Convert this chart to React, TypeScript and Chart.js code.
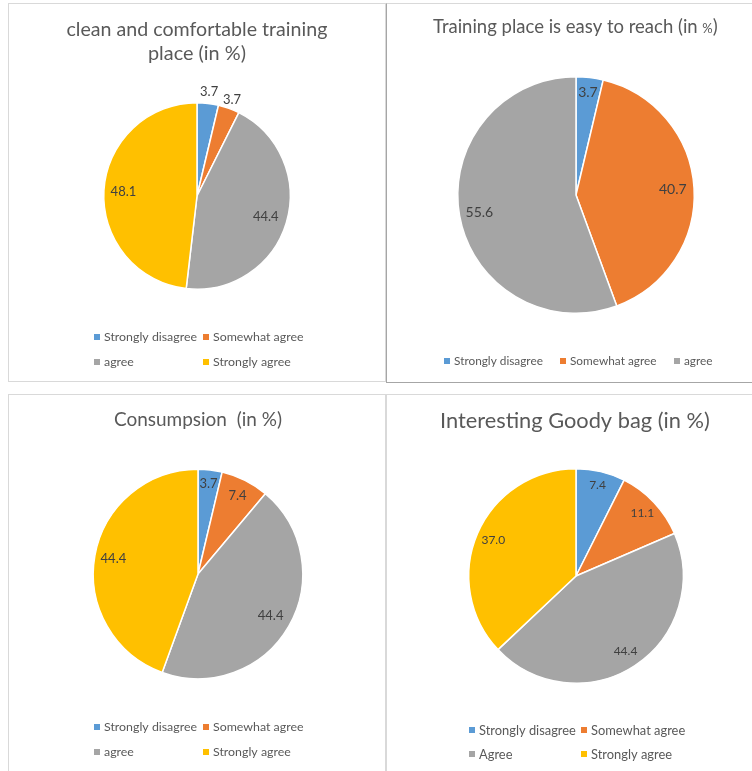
import React, { useEffect, useRef } from "react";
import { Chart, registerables } from "chart.js";

Chart.register(...registerables);

// ---------- data ----------
const cleanCategories = ["Strongly disagree", "Somewhat agree", "agree", "Strongly agree"];
const cleanValues = [3.7, 3.7, 44.4, 48.1];

const reachCategories = ["Strongly disagree", "Somewhat agree", "agree"];
const reachValues = [3.7, 40.7, 55.6];

const consumpCategories = ["Strongly disagree", "Somewhat agree", "agree", "Strongly agree"];
const consumpValues = [3.7, 7.4, 44.4, 44.4];

const goodyCategories = ["Strongly disagree", "Somewhat agree", "Agree", "Strongly agree"];
const goodyValues = [7.4, 11.1, 44.4, 37.0];

const sliceColors = ["#5B9BD5", "#ED7D31", "#A5A5A5", "#FFC000"];

// ---------- layout / style (page coordinates) ----------
const FONT = "Lato, 'Open Sans', 'DejaVu Sans', sans-serif";
const TEXT = "#595959";
const LABEL = "#404040";

type Seg = { t: string; s?: number };
type TitleLine = { segs: Seg[]; cx: number; base: number; w: number };
type Panel = {
  key: string;
  box: { x: number; y: number; w: number; h: number };
  borders: { top?: string; left?: string; right?: string; bottom?: string };
  center: [number, number];
  r: number;
  titles: TitleLine[];
  labelR: number[];
  labelSize: number;
  legendPos: [number, number][];
  legendFitW: number;
  categories: string[];
  values: number[];
};

const LIGHT = "#d9d9d9";
const DARK = "#a6a6a6";

const panels: Panel[] = [
  {
    key: "clean",
    box: { x: 8, y: 3, w: 378, h: 379 },
    borders: { top: LIGHT, left: LIGHT, right: LIGHT, bottom: LIGHT },
    center: [197, 196],
    r: 94,
    titles: [
      { segs: [{ t: "clean and comfortable training" }], cx: 197, base: 36, w: 261 },
      { segs: [{ t: "place (in %)" }], cx: 197, base: 60, w: 98 },
    ],
    labelR: [1.12, 1.1, 0.77, 0.79],
    labelSize: 13,
    legendPos: [[97, 337], [206, 337], [97, 362], [206, 362]],
    legendFitW: 93,
    categories: cleanCategories,
    values: cleanValues,
  },
  {
    key: "reach",
    box: { x: 386, y: 3, w: 380, h: 380 },
    borders: { top: LIGHT, left: DARK, bottom: DARK },
    center: [576, 195],
    r: 119,
    titles: [
      {
        segs: [{ t: "Training place is easy to reach (in " }, { t: "%", s: 0.7 }, { t: ")" }],
        cx: 575.5,
        base: 33,
        w: 285,
      },
    ],
    labelR: [0.87, 0.82, 0.83],
    labelSize: 14,
    legendPos: [[447, 361], [563, 361], [677, 361]],
    legendFitW: 89,
    categories: reachCategories,
    values: reachValues,
  },
  {
    key: "consump",
    box: { x: 8, y: 394, w: 378, h: 400 },
    borders: { top: LIGHT, left: LIGHT, right: LIGHT },
    center: [198, 574],
    r: 105.5,
    titles: [{ segs: [{ t: "Consumpsion  (in %)" }], cx: 198, base: 426, w: 168 }],
    labelR: [0.87, 0.84, 0.8, 0.82],
    labelSize: 13,
    legendPos: [[97, 727], [206, 727], [97, 752], [206, 752]],
    legendFitW: 93,
    categories: consumpCategories,
    values: consumpValues,
  },
  {
    key: "goody",
    box: { x: 386, y: 394, w: 380, h: 400 },
    borders: { top: LIGHT, left: LIGHT },
    center: [576, 576],
    r: 108,
    titles: [{ segs: [{ t: "Interesting Goody bag (in %)" }], cx: 575, base: 428, w: 270 }],
    labelR: [0.87, 0.85, 0.84, 0.84],
    labelSize: 12,
    legendPos: [[472, 730], [584, 730], [472, 754], [584, 754]],
    legendFitW: 97,
    categories: goodyCategories,
    values: goodyValues,
  },
];

const panelTextPlugin = {
  id: "panelText",
  afterDraw(chart: any, _args: any, opts: any) {
    const p: Panel = opts.panel;
    if (!p) return;
    const ctx: CanvasRenderingContext2D = chart.ctx;
    const ox = p.box.x;
    const oy = p.box.y;
    ctx.save();

    // titles
    for (const line of p.titles) {
      const base = 20;
      let total = 0;
      for (const s of line.segs) {
        ctx.font = `${base * (s.s ?? 1)}px ${FONT}`;
        total += ctx.measureText(s.t).width;
      }
      const k = line.w / total;
      let x = line.cx - ox - line.w / 2;
      ctx.fillStyle = TEXT;
      ctx.textBaseline = "alphabetic";
      ctx.textAlign = "left";
      for (const s of line.segs) {
        ctx.font = `${base * k * (s.s ?? 1)}px ${FONT}`;
        ctx.fillText(s.t, x, line.base - oy);
        x += ctx.measureText(s.t).width;
      }
    }

    // data labels
    const meta = chart.getDatasetMeta(0);
    const ds = chart.data.datasets[0];
    ctx.font = `${p.labelSize}px ${FONT}`;
    ctx.fillStyle = LABEL;
    ctx.textAlign = "center";
    ctx.textBaseline = "middle";
    meta.data.forEach((arc: any, i: number) => {
      const { x, y, startAngle, endAngle, outerRadius } = arc.getProps(
        ["x", "y", "startAngle", "endAngle", "outerRadius"],
        true
      );
      const mid = (startAngle + endAngle) / 2;
      const rr = outerRadius * p.labelR[i];
      ctx.fillText(Number(ds.data[i]).toFixed(1), x + Math.cos(mid) * rr, y + Math.sin(mid) * rr);
    });

    // legend
    const labels: string[] = chart.data.labels;
    ctx.font = `12px ${FONT}`;
    const fw = ctx.measureText(labels[0]).width;
    const lsize = 12 * (p.legendFitW / fw);
    ctx.font = `${lsize}px ${FONT}`;
    ctx.textAlign = "left";
    ctx.textBaseline = "middle";
    labels.forEach((lab, i) => {
      const [lx, ly] = p.legendPos[i];
      ctx.fillStyle = (ds.backgroundColor as string[])[i];
      ctx.fillRect(lx - 3 - ox, ly - 3 - oy, 6, 6);
      ctx.fillStyle = TEXT;
      ctx.fillText(lab, lx + 7 - ox, ly - oy + 0.5);
    });

    ctx.restore();
  },
};

function PiePanel({ p }: { p: Panel }) {
  const ref = useRef<HTMLCanvasElement | null>(null);
  useEffect(() => {
    if (!ref.current) return;
    const cx = p.center[0] - p.box.x;
    const cy = p.center[1] - p.box.y;
    const chart = new Chart(ref.current, {
      type: "pie",
      data: {
        labels: p.categories,
        datasets: [
          {
            data: p.values,
            backgroundColor: sliceColors.slice(0, p.values.length),
            borderColor: "#ffffff",
            borderWidth: 1.5,
          },
        ],
      },
      options: {
        responsive: false,
        animation: false,
        devicePixelRatio: 1,
        layout: {
          padding: {
            left: cx - p.r,
            top: cy - p.r,
            right: p.box.w - cx - p.r,
            bottom: p.box.h - cy - p.r,
          },
        },
        plugins: {
          legend: { display: false },
          title: { display: false },
          tooltip: { enabled: false },
          // @ts-ignore
          panelText: { panel: p },
        },
      } as any,
      plugins: [panelTextPlugin as any],
    });
    return () => chart.destroy();
  }, [p]);

  const b = p.borders;
  return (
    <>
      <div
        style={{
          position: "absolute",
          left: p.box.x,
          top: p.box.y,
          width: p.box.w,
          height: p.box.h,
          boxSizing: "border-box",
          borderTop: b.top ? `1px solid ${b.top}` : "none",
          borderLeft: b.left ? `1px solid ${b.left}` : "none",
          borderRight: b.right ? `1px solid ${b.right}` : "none",
          borderBottom: b.bottom ? `1px solid ${b.bottom}` : "none",
          background: "#ffffff",
        }}
      />
      <canvas
        ref={ref}
        width={p.box.w}
        height={p.box.h}
        style={{ position: "absolute", left: p.box.x, top: p.box.y, width: p.box.w, height: p.box.h }}
      />
    </>
  );
}

export default function App() {
  return (
    <div
      style={{
        position: "absolute",
        left: 0,
        top: 0,
        width: 752,
        height: 771,
        overflow: "hidden",
        background: "#ffffff",
      }}
    >
      {panels.map((p) => (
        <PiePanel key={p.key} p={p} />
      ))}
    </div>
  );
}
